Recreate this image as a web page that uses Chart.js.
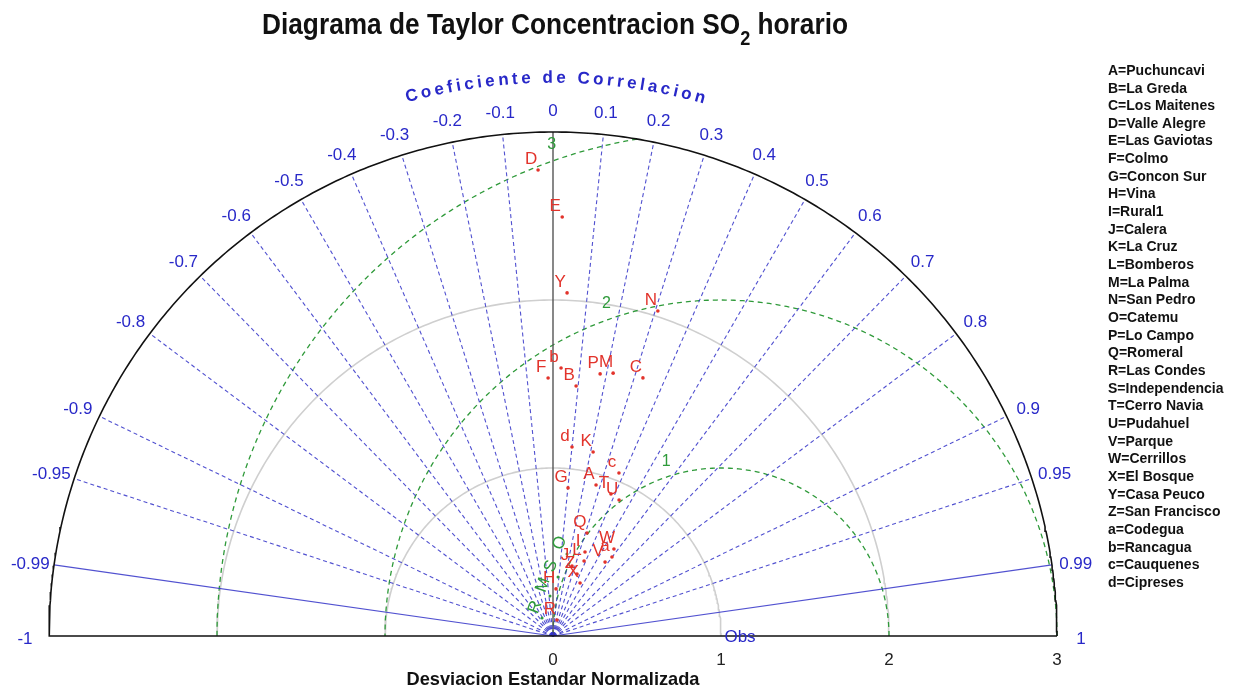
<!DOCTYPE html>
<html>
<head>
<meta charset="utf-8">
<script src="https://cdn.jsdelivr.net/npm/chart.js@4.4.1/dist/chart.umd.min.js"></script>
<style>
html,body{margin:0;padding:0;background:#fff;}
canvas{display:block;}
</style>
</head>
<body>
<canvas id="c" width="1246" height="688"></canvas>
<script>
// ---------------- DATA ----------------
const titleMain = 'Diagrama de Taylor Concentracion SO';
const titleSub = '2';
const titleEnd = ' horario';
const corrAxisTitle = 'Coeficiente de Correlacion';
const stdAxisTitle = 'Desviacion Estandar Normalizada';

const stdTicks = [0, 1, 2, 3];
const stdCircles = [1, 2];
const rmsCircles = [1, 2, 3];
const maxStd = 3;
const obsStd = 1;

const corrLines = [-0.99, -0.95, -0.9, -0.8, -0.7, -0.6, -0.5, -0.4, -0.3, -0.2, -0.1,
                   0, 0.1, 0.2, 0.3, 0.4, 0.5, 0.6, 0.7, 0.8, 0.9, 0.95, 0.99];
const corrTickLabels = ['-1', '-0.99', '-0.95', '-0.9', '-0.8', '-0.7', '-0.6', '-0.5', '-0.4', '-0.3', '-0.2', '-0.1',
                        '0', '0.1', '0.2', '0.3', '0.4', '0.5', '0.6', '0.7', '0.8', '0.9', '0.95', '0.99', '1'];
const corrTickValues = [-1, -0.99, -0.95, -0.9, -0.8, -0.7, -0.6, -0.5, -0.4, -0.3, -0.2, -0.1,
                        0, 0.1, 0.2, 0.3, 0.4, 0.5, 0.6, 0.7, 0.8, 0.9, 0.95, 0.99, 1];

// case 1 (red)
const redLabels = ['A','B','C','D','E','F','G','H','I','J','K','L','M','N','P','Q','R','T','U','V','W','X','Y','Z','a','b','c','d'];
const redStd  = [0.935,1.494,1.627,2.775,2.495,1.536,0.886,0.281,0.535,0.432,1.121,0.483,1.605,2.033,1.585,0.646,0.098,0.913,0.900,0.538,0.632,0.354,2.044,0.396,0.587,1.596,1.047,1.131];
const redCorr = [0.274,0.092,0.329,-0.032,0.022,-0.019,0.101,0.064,0.356,0.262,0.213,0.383,0.223,0.307,0.177,0.313,0.24,0.378,0.437,0.576,0.574,0.455,0.041,0.361,0.598,0.030,0.375,0.100];

// case 2 (green)
const greenLabels = ['O','S','M','R'];
const greenStd  = [0.495,0.352,0.239,0.125];
const greenCorr = [0.168,0.085,-0.075,-0.52];

const legendEntries = ['A=Puchuncavi','B=La Greda','C=Los Maitenes','D=Valle Alegre','E=Las Gaviotas','F=Colmo',
  'G=Concon Sur','H=Vina','I=Rural1','J=Calera','K=La Cruz','L=Bomberos','M=La Palma','N=San Pedro','O=Catemu',
  'P=Lo Campo','Q=Romeral','R=Las Condes','S=Independencia','T=Cerro Navia','U=Pudahuel','V=Parque','W=Cerrillos',
  'X=El Bosque','Y=Casa Peuco','Z=San Francisco','a=Codegua','b=Rancagua','c=Cauquenes','d=Cipreses'];

// ---------------- GEOMETRY HELPERS ----------------
const polar = (s, r) => ({ x: s * r, y: s * Math.sqrt(Math.max(0, 1 - r * r)) });
function arc(cx, r, a0, a1, n) {
  const pts = [];
  for (let i = 0; i <= n; i++) {
    const a = a0 + (a1 - a0) * i / n;
    pts.push({ x: cx + r * Math.cos(a), y: Math.max(0, r * Math.sin(a)) });
  }
  return pts;
}

const BLUE = 'rgba(50,50,200,0.85)';
const datasets = [];

// outer frame
datasets.push({
  data: [...arc(0, maxStd, 0, Math.PI, 360), { x: maxStd, y: 0 }],
  borderColor: '#111', borderWidth: 1.6, order: 5
});
// std circles
stdCircles.forEach(s => datasets.push({
  data: arc(0, s, 0, Math.PI, 240), borderColor: '#cfcfcf', borderWidth: 1.6, order: 9
}));
// rms circles centered on obs
rmsCircles.forEach(r => {
  let a0 = 0;
  if (obsStd + r > maxStd) {
    const xi = (maxStd * maxStd - r * r + obsStd * obsStd) / (2 * obsStd);
    a0 = Math.atan2(Math.sqrt(maxStd * maxStd - xi * xi), xi - obsStd);
  }
  datasets.push({
    data: arc(obsStd, r, a0, Math.PI, 240), borderColor: '#2f9a3a', borderWidth: 1.3,
    borderDash: [5, 4], order: 8
  });
});
// radial correlation lines
corrLines.forEach(c => {
  const solid = Math.abs(c) === 0.99;
  const zero = c === 0;
  datasets.push({
    data: [{ x: 0, y: 0 }, polar(maxStd, c)],
    borderColor: zero ? '#555' : BLUE,
    borderWidth: zero ? 1.4 : 1.1,
    borderDash: (solid || zero) ? [] : [4, 3],
    order: 7
  });
});
// points
datasets.push({
  type: 'scatter', pointText: redLabels, textColor: '#e2332b', rot: 0,
  data: redStd.map((s, i) => polar(s, redCorr[i])),
  backgroundColor: '#e2332b', pointRadius: 1.8, pointBorderWidth: 0, showLine: false, order: 1
});
datasets.push({
  type: 'scatter', pointText: greenLabels, textColor: '#2e9a3a', rot: -70,
  data: greenStd.map((s, i) => polar(s, greenCorr[i])),
  backgroundColor: '#2e9a3a', pointRadius: 1.5, pointBorderWidth: 0, showLine: false, order: 2
});

datasets.forEach(d => {
  if (!d.type) { d.type = 'line'; d.pointRadius = 0; d.fill = false; d.tension = 0; }
  d.clip = false;
});

// ---------------- TEXT PLUGIN ----------------
function fitText(ctx, parts, cx, baseY, targetW) {
  let w = 0;
  parts.forEach(p => { ctx.font = p.font; w += ctx.measureText(p.t).width; });
  const sx = targetW / w;
  ctx.save();
  ctx.translate(cx - targetW / 2, baseY);
  ctx.scale(sx, 1);
  let x = 0;
  ctx.textAlign = 'left'; ctx.textBaseline = 'alphabetic';
  parts.forEach(p => {
    ctx.font = p.font; ctx.fillStyle = p.color || '#111';
    ctx.fillText(p.t, x, p.dy || 0);
    x += ctx.measureText(p.t).width;
  });
  ctx.restore();
}

const taylorText = {
  id: 'taylorText',
  afterDraw(chart) {
    const ctx = chart.ctx, xs = chart.scales.x, ys = chart.scales.y;
    const ox = xs.getPixelForValue(0), oy = ys.getPixelForValue(0);
    const unit = xs.getPixelForValue(1) - ox;
    const R = maxStd * unit;
    ctx.save();

    // title
    fitText(ctx, [
      { t: titleMain, font: 'bold 29px "Liberation Sans", Arial, sans-serif' },
      { t: titleSub, font: 'bold 20px "Liberation Sans", Arial, sans-serif', dy: 11 },
      { t: titleEnd, font: 'bold 29px "Liberation Sans", Arial, sans-serif' }
    ], ox + 2, 34, 586);

    // correlation tick labels
    ctx.fillStyle = '#2828c8';
    ctx.font = '17px "Liberation Sans", Arial, sans-serif';
    ctx.textAlign = 'center'; ctx.textBaseline = 'middle';
    corrTickValues.forEach((c, i) => {
      const a = Math.acos(c);
      const r = R + 24;
      ctx.fillText(corrTickLabels[i], ox + r * Math.cos(a), oy - r * Math.sin(a) + 3);
    });

    // curved correlation title
    ctx.font = 'bold 17px "Liberation Sans", Arial, sans-serif';
    const chars = corrAxisTitle.split('');
    const widths = chars.map(ch => ctx.measureText(ch).width);
    const rt = R + 54;
    const a0 = -15.3 * Math.PI / 180, a1 = 15.8 * Math.PI / 180;
    const span = rt * (a1 - a0);
    const tot = widths.reduce((s, w) => s + w, 0);
    const gap = (span - tot) / (chars.length - 1);
    let acc = 0;
    chars.forEach((ch, i) => {
      const mid = acc + widths[i] / 2;
      const ang = a0 + mid / rt;
      ctx.save();
      ctx.translate(ox + rt * Math.sin(ang), oy - rt * Math.cos(ang));
      ctx.rotate(ang);
      ctx.fillText(ch, 0, 0);
      ctx.restore();
      acc += widths[i] + gap;
    });

    // RMS labels
    ctx.fillStyle = '#2e9a3a';
    ctx.font = '16px "Liberation Sans", Arial, sans-serif';
    const ox1 = xs.getPixelForValue(obsStd);
    rmsCircles.forEach(r => {
      const a = 109 * Math.PI / 180, rr = r * unit + 16;
      ctx.fillText(String(r), ox1 + rr * Math.cos(a) + (r === 1 ? 5 : 0), oy - rr * Math.sin(a));
    });

    // Obs label
    ctx.fillStyle = '#2828c8';
    ctx.font = '17px "Liberation Sans", Arial, sans-serif';
    ctx.fillText('Obs', ox1 + 19, oy + 1);

    // std ticks
    ctx.fillStyle = '#222';
    ctx.font = '17px "Liberation Sans Narrow", "Liberation Sans", Arial, sans-serif';
    stdTicks.forEach(s => ctx.fillText(String(s), xs.getPixelForValue(s), oy + 24));

    // x axis title
    fitText(ctx, [{ t: stdAxisTitle, font: 'bold 19px "Liberation Sans", Arial, sans-serif', color: '#111' }],
      ox + 0, oy + 49, 293);

    // point labels
    chart.data.datasets.forEach((ds, di) => {
      if (!ds.pointText) return;
      const meta = chart.getDatasetMeta(di);
      ctx.fillStyle = ds.textColor;
      ctx.font = '17px "Liberation Sans", Arial, sans-serif';
      meta.data.forEach((el, i) => {
        ctx.save();
        ctx.translate(el.x - 7, el.y - 11);
        ctx.rotate(ds.rot * Math.PI / 180);
        ctx.fillText(ds.pointText[i], 0, 0);
        ctx.restore();
      });
    });

    // legend list
    ctx.fillStyle = '#111';
    ctx.font = 'bold 14px "Liberation Sans", Arial, sans-serif';
    ctx.textAlign = 'left';
    legendEntries.forEach((t, i) => ctx.fillText(t, 1108, 71 + i * 17.66));

    ctx.restore();
  }
};

new Chart(document.getElementById('c'), {
  type: 'line',
  data: { datasets },
  options: {
    responsive: false,
    devicePixelRatio: 1,
    animation: false,
    events: [],
    layout: { padding: { left: 49, right: 189, top: 132, bottom: 52 } },
    plugins: { legend: { display: false }, tooltip: { enabled: false }, title: { display: false } },
    scales: {
      x: { type: 'linear', min: -maxStd, max: maxStd, display: false },
      y: { type: 'linear', min: 0, max: maxStd, display: false }
    }
  },
  plugins: [taylorText]
});
</script>
</body>
</html>
